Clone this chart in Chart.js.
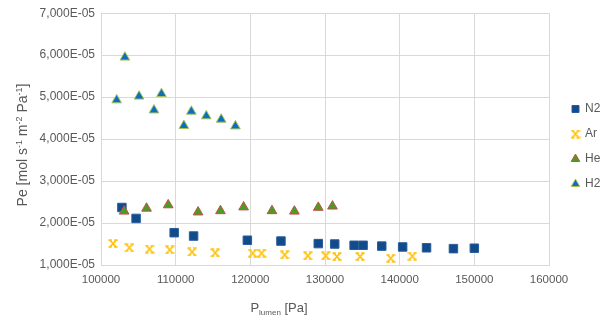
<!DOCTYPE html>
<html>
<head>
<meta charset="utf-8">
<script src="https://cdn.jsdelivr.net/npm/chart.js@4.4.1/dist/chart.umd.min.js"></script>
<style>
  html, body { margin: 0; padding: 0; background: #ffffff; }
  #wrap { width: 613px; height: 321px; }
</style>
</head>
<body>
<div id="wrap"><canvas id="c" width="613" height="321"></canvas></div>
<script>
// ---- data ----
const seriesNames = ['N2', 'Ar', 'He', 'H2'];

const n2X = [102800, 104700, 109800, 112400, 119600, 124100, 129100, 131300, 133900, 135100, 137600, 140400, 143600, 147200, 150000];
const n2Y = [2.37e-5, 2.11e-5, 1.77e-5, 1.69e-5, 1.59e-5, 1.57e-5, 1.51e-5, 1.50e-5, 1.47e-5, 1.47e-5, 1.45e-5, 1.43e-5, 1.41e-5, 1.39e-5, 1.40e-5];

const arX = [101600, 103800, 106500, 109200, 112200, 115300, 120300, 121500, 124600, 127700, 130100, 131600, 134700, 138800, 141700];
const arY = [1.51e-5, 1.41e-5, 1.38e-5, 1.36e-5, 1.31e-5, 1.29e-5, 1.28e-5, 1.28e-5, 1.24e-5, 1.22e-5, 1.22e-5, 1.20e-5, 1.20e-5, 1.16e-5, 1.21e-5];

const heX = [103100, 106100, 109000, 113000, 116000, 119100, 122900, 125900, 129100, 131000];
const heY = [2.28e-5, 2.35e-5, 2.43e-5, 2.26e-5, 2.29e-5, 2.38e-5, 2.29e-5, 2.28e-5, 2.37e-5, 2.40e-5];

const h2X = [102100, 103200, 105100, 107100, 108100, 111100, 112100, 114100, 116100, 118000];
const h2Y = [4.93e-5, 5.95e-5, 5.02e-5, 4.69e-5, 5.08e-5, 4.32e-5, 4.66e-5, 4.55e-5, 4.47e-5, 4.31e-5];

const xTicks = [100000, 110000, 120000, 130000, 140000, 150000, 160000];
const yTicks = [1e-5, 2e-5, 3e-5, 4e-5, 5e-5, 6e-5, 7e-5];

const xTitleMain = 'P';
const xTitleSub = 'lumen';
const xTitleRest = ' [Pa]';
const yTitleParts = [['Pe [mol s', false], ['-1', true], [' m', false], ['-2', true], [' Pa', false], ['-1', true], [']', false]];

// ---- helpers ----
function pts(xs, ys) { return xs.map((x, i) => ({ x: x, y: ys[i] })); }

function makeStar(color) {
  const c = document.createElement('canvas');
  c.width = 10; c.height = 9;
  const g = c.getContext('2d');
  g.strokeStyle = color;
  g.lineWidth = 1.7;
  g.beginPath();
  g.moveTo(2.2, 1.5); g.lineTo(7.8, 7.5);
  g.moveTo(7.8, 1.5); g.lineTo(2.2, 7.5);
  g.moveTo(0.5, 1.2); g.lineTo(3.8, 1.2);
  g.moveTo(6.2, 1.2); g.lineTo(9.5, 1.2);
  g.moveTo(0.5, 7.8); g.lineTo(3.8, 7.8);
  g.moveTo(6.2, 7.8); g.lineTo(9.5, 7.8);
  g.stroke();
  return c;
}
const starImg = makeStar('#FFC000');

const FONT = "'Liberation Sans', Arial, sans-serif";
const TXT = '#595959';
const GRID = '#D9D9D9';

const legendFix = {
  id: 'legendFix',
  beforeLayout(chart) {
    const lg = chart.legend;
    if (lg && !lg._fixWrapped) {
      const orig = lg.fit.bind(lg);
      lg.fit = function () { orig(); if (this.isHorizontal && !this.isHorizontal()) this.width = 64; };
      lg._fixWrapped = true;
    }
  },
  afterLayout(chart) {
    const lg = chart.legend;
    if (!lg) return;
    lg.left += 10; lg.right += 10;
    lg.top -= 20; lg.bottom -= 20;
  }
};

const titles = {
  id: 'titles',
  afterDraw(chart) {
    const ctx = chart.ctx;
    const ca = chart.chartArea;
    ctx.save();
    ctx.fillStyle = TXT;
    ctx.textBaseline = 'alphabetic';
    ctx.textAlign = 'left';
    // x title with subscript
    const mainF = '13px ' + FONT, subF = '8px ' + FONT;
    ctx.font = mainF; const w1 = ctx.measureText(xTitleMain).width; const w3 = ctx.measureText(xTitleRest).width;
    ctx.font = subF; const w2 = ctx.measureText(xTitleSub).width;
    const cx = ca.left + 178;
    let x = cx - (w1 + w2 + w3) / 2;
    const by = 312;
    ctx.font = mainF; ctx.fillText(xTitleMain, x, by); x += w1;
    ctx.font = subF; ctx.fillText(xTitleSub, x, by + 3); x += w2;
    ctx.font = mainF; ctx.fillText(xTitleRest, x, by);
    // y title with superscripts (rotated)
    const yMain = '14px ' + FONT, ySup = '9px ' + FONT;
    let total = 0;
    yTitleParts.forEach(p => { ctx.font = p[1] ? ySup : yMain; total += ctx.measureText(p[0]).width; });
    ctx.translate(27, 145);
    ctx.rotate(-Math.PI / 2);
    let tx = -total / 2;
    yTitleParts.forEach(p => {
      ctx.font = p[1] ? ySup : yMain;
      ctx.fillText(p[0], tx, p[1] ? -5.5 : 0);
      tx += ctx.measureText(p[0]).width;
    });
    ctx.restore();
  }
};

Chart.defaults.font.family = FONT;
Chart.defaults.color = TXT;

new Chart(document.getElementById('c'), {
  type: 'scatter',
  data: {
    datasets: [
      { label: seriesNames[0], data: pts(n2X, n2Y), pointStyle: 'rect', pointRadius: 6, pointHoverRadius: 6,
        backgroundColor: '#124B8C', borderColor: '#2A5D98', borderWidth: 1, order: 4 },
      { label: seriesNames[1], data: pts(arX, arY), pointStyle: starImg, pointRadius: 5, pointHoverRadius: 5,
        backgroundColor: '#FFC000', borderColor: '#FFC000', borderWidth: 1, order: 3 },
      { label: seriesNames[2], data: pts(heX, heY), pointStyle: 'triangle', pointRadius: 5.6, pointHoverRadius: 5.6,
        backgroundColor: '#4E9A22', borderColor: '#C0504D', borderWidth: 1, order: 2 },
      { label: seriesNames[3], data: pts(h2X, h2Y), pointStyle: 'triangle', pointRadius: 5.6, pointHoverRadius: 5.6,
        backgroundColor: '#0A70BE', borderColor: '#A9C35A', borderWidth: 1, order: 1 }
    ]
  },
  options: {
    responsive: false,
    animation: false,
    devicePixelRatio: 1,
    layout: { padding: { top: 12, left: 0, right: 0, bottom: 0 } },
    plugins: {
      tooltip: { enabled: false },
      legend: {
        position: 'right',
        align: 'center',
        labels: {
          usePointStyle: true,
          boxWidth: 7,
          boxHeight: 7,
          padding: 13,
          color: TXT,
          font: { size: 12, family: FONT },
          sort: (a, b) => a.datasetIndex - b.datasetIndex
        }
      }
    },
    scales: {
      x: {
        type: 'linear',
        min: xTicks[0],
        max: xTicks[xTicks.length - 1],
        afterBuildTicks(scale) { scale.ticks = xTicks.map(v => ({ value: v })); },
        afterFit(scale) { scale.height = 56; },
        grid: { color: GRID, lineWidth: 1, drawTicks: false },
        border: { color: GRID },
        ticks: { padding: 8, color: TXT, font: { size: 11.5, family: FONT }, callback: v => String(v) }
      },
      y: {
        type: 'linear',
        min: yTicks[0],
        max: yTicks[yTicks.length - 1],
        afterBuildTicks(scale) { scale.ticks = yTicks.map(v => ({ value: v })); },
        afterFit(scale) { scale.width = 101; },
        grid: { color: GRID, lineWidth: 1, drawTicks: false },
        border: { color: GRID },
        ticks: { padding: 6, color: TXT, font: { size: 12, family: FONT },
          callback: v => (v * 1e5).toFixed(3).replace('.', ',') + 'E-05' }
      }
    }
  },
  plugins: [legendFix, titles]
});
</script>
</body>
</html>
